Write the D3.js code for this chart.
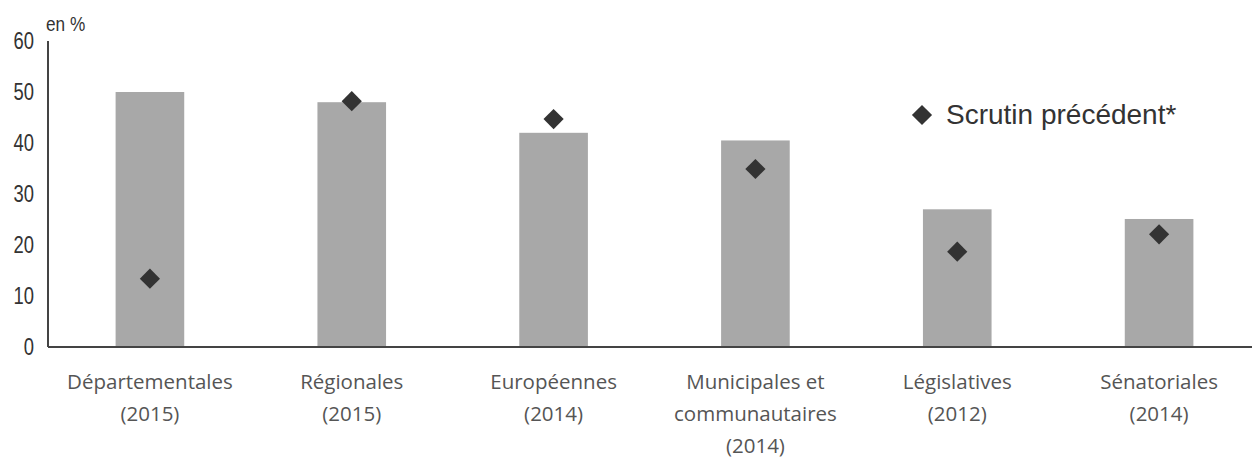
<!DOCTYPE html>
<html>
<head>
<meta charset="utf-8">
<script src="https://cdn.jsdelivr.net/npm/d3@7"></script>
<style>
  body { margin: 0; background: #fff; }
</style>
</head>
<body>
<script>
// values
const categories = [
  ["Départementales", "(2015)"],
  ["Régionales", "(2015)"],
  ["Européennes", "(2014)"],
  ["Municipales et", "communautaires", "(2014)"],
  ["Législatives", "(2012)"],
  ["Sénatoriales", "(2014)"]
];
const current = [50.0, 48.0, 42.0, 40.5, 27.0, 25.1];
const previous = [13.4, 48.2, 44.7, 34.9, 18.7, 22.1];
const yTicks = [0, 10, 20, 30, 40, 50, 60];
const legendLabel = "Scrutin précédent*";

const W = 1252, H = 461;
const m = {left: 48, top: 41, bottom: 114};

const svg = d3.select("body").append("svg")
  .attr("width", W).attr("height", H);

// the last band runs a little past the right edge in the original
const x = d3.scaleBand()
  .domain(d3.range(categories.length))
  .range([49, 1260])
  .paddingInner(0.66).paddingOuter(0.33);

const y = d3.scaleLinear().domain([0, 60]).range([H - m.bottom, m.top]);

// bars
svg.selectAll("rect.bar")
  .data(current)
  .enter().append("rect")
  .attr("class", "bar")
  .attr("x", (d, i) => x(i))
  .attr("width", x.bandwidth())
  .attr("y", d => y(d))
  .attr("height", d => y(0) - y(d))
  .attr("fill", "#a8a8a8");

// axes lines
svg.append("line")
  .attr("x1", m.left).attr("x2", m.left)
  .attr("y1", y(60)).attr("y2", y(0))
  .attr("stroke", "#444").attr("stroke-width", 2);
svg.append("line")
  .attr("x1", m.left).attr("x2", W)
  .attr("y1", y(0)).attr("y2", y(0))
  .attr("stroke", "#444").attr("stroke-width", 2);

// y tick labels, condensed like Arial Narrow
svg.selectAll("text.ytick")
  .data(yTicks)
  .enter().append("text")
  .attr("class", "ytick")
  .attr("transform", d => "translate(34," + y(d) + ") scale(0.8,1)")
  .attr("dy", "0.36em")
  .attr("text-anchor", "end")
  .attr("font-family", "'Liberation Sans', Arial, sans-serif")
  .attr("font-size", 23)
  .attr("fill", "#333")
  .text(d => d);

svg.append("text")
  .attr("transform", "translate(46,31) scale(0.82,1)")
  .attr("font-family", "'Liberation Sans', Arial, sans-serif")
  .attr("font-size", 21)
  .attr("fill", "#333")
  .text("en %");

// diamonds for previous election
const diamond = d3.symbol().type(d3.symbolDiamond2).size(260);
svg.selectAll("path.prev")
  .data(previous)
  .enter().append("path")
  .attr("class", "prev")
  .attr("d", diamond)
  .attr("transform", (d, i) => "translate(" + (x(i) + x.bandwidth() / 2) + "," + y(d) + ")")
  .attr("fill", "#333");

// category labels
const lab = svg.selectAll("text.cat")
  .data(categories)
  .enter().append("text")
  .attr("class", "cat")
  .attr("text-anchor", "middle")
  .attr("font-family", "'Open Sans', sans-serif")
  .attr("font-size", 20.5)
  .attr("fill", "#555")
  .attr("transform", (d, i) => "translate(" + (x(i) + x.bandwidth() / 2) + ",389)");
lab.selectAll("tspan")
  .data(d => d)
  .enter().append("tspan")
  .attr("x", 0)
  .attr("y", (d, i) => i * 32)
  .text(d => d);

// legend
svg.append("path")
  .attr("d", diamond)
  .attr("transform", "translate(922,115)")
  .attr("fill", "#333");
svg.append("text")
  .attr("x", 946).attr("y", 124)
  .attr("font-family", "'Liberation Sans', Arial, sans-serif")
  .attr("font-size", 28)
  .attr("fill", "#333")
  .text(legendLabel);
</script>
</body>
</html>
